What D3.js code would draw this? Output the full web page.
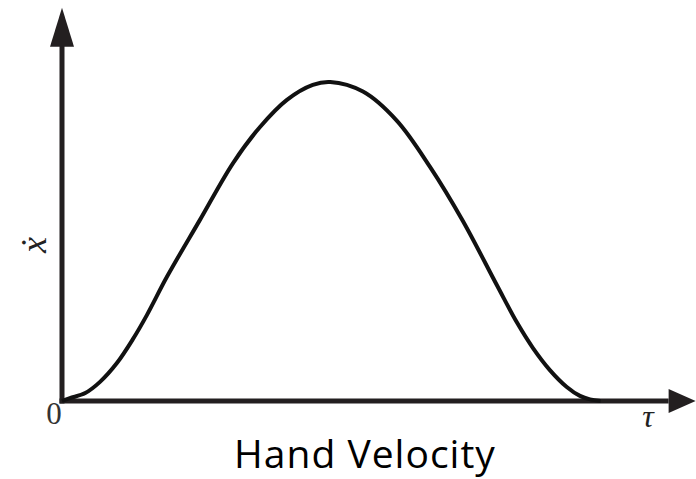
<!DOCTYPE html>
<html>
<head>
<meta charset="utf-8">
<script src="https://cdn.jsdelivr.net/npm/d3@7"></script>
<style>
  body { margin: 0; background: #fff; }
  svg { display: block; }
</style>
</head>
<body>
<div id="chart"></div>
<script>
//Data (tau normalised to movement time, velocity to peak)
var tau      = [0, 0.015, 0.044, 0.072, 0.104, 0.134, 0.161, 0.199, 0.261, 0.324, 0.375, 0.426, 0.475, 0.508, 0.570, 0.634, 0.697, 0.759, 0.824, 0.862, 0.892, 0.924, 0.956, 0.981, 1.0, 1.02];
var velocity = [0, 0.009, 0.025, 0.060, 0.119, 0.193, 0.270, 0.390, 0.567, 0.746, 0.859, 0.944, 0.991, 1.0, 0.970, 0.879, 0.734, 0.565, 0.362, 0.245, 0.166, 0.097, 0.044, 0.016, 0.005, 0];
var axisEnds = [1.2, 1.233]; //where the arrow tips sit, in data units
var labels   = {origin: "0", x: "\u03C4", y: "\u1E8B", title: "Hand Velocity"};

//Global variables
var width = 696;
var height = 479;
var axisColor = "#231f20";

var svg = d3.select("#chart")
  .append("svg")
  .attr("width", width)
  .attr("height", height);

//Scales
var xScale = d3.scaleLinear()
  .domain([0, 1])
  .range([62, 590]);

var yScale = d3.scaleLinear()
  .domain([0, 1])
  .range([401, 82]);

var x0 = xScale(0), y0 = yScale(0);
var xTip = xScale(axisEnds[0]), yTip = yScale(axisEnds[1]);
var headLen = 27, headHalf = 12;

//Axis lines
svg.append("line")
  .attr("x1", x0).attr("y1", y0 + 2.5)
  .attr("x2", x0).attr("y2", yTip + headLen)
  .attr("stroke", axisColor)
  .attr("stroke-width", 5);

svg.append("line")
  .attr("x1", x0 - 2.5).attr("y1", y0)
  .attr("x2", xTip - headLen).attr("y2", y0)
  .attr("stroke", axisColor)
  .attr("stroke-width", 5);

//Arrow heads
svg.append("path")
  .attr("d", "M" + x0 + "," + yTip + "L" + (x0 + headHalf) + "," + (yTip + headLen + 12) +
             "L" + (x0 - headHalf) + "," + (yTip + headLen + 12) + "Z")
  .attr("fill", axisColor);

svg.append("path")
  .attr("d", "M" + xTip + "," + y0 + "L" + (xTip - headLen) + "," + (y0 - headHalf) +
             "L" + (xTip - headLen) + "," + (y0 + headHalf) + "Z")
  .attr("fill", axisColor);

//Velocity curve
var line = d3.line()
  .x(function(d, i) { return xScale(tau[i]); })
  .y(function(d) { return yScale(d); })
  .curve(d3.curveCatmullRom.alpha(0.5));

svg.append("path")
  .datum(velocity)
  .attr("d", line)
  .attr("fill", "none")
  .attr("stroke", "#111")
  .attr("stroke-width", 4);

//Labels
svg.append("text")
  .attr("x", x0 - 8)
  .attr("y", y0 + 23)
  .attr("text-anchor", "middle")
  .attr("font-family", "Liberation Serif, serif")
  .attr("font-size", 31)
  .attr("fill", "#333")
  .text(labels.origin);

svg.append("text")
  .attr("x", 648)
  .attr("y", 427)
  .attr("text-anchor", "middle")
  .attr("font-family", "Liberation Serif, DejaVu Serif, serif")
  .attr("font-style", "italic")
  .attr("font-size", 32)
  .attr("fill", "#222")
  .text(labels.x);

svg.append("text")
  .attr("transform", "translate(46,245) rotate(-90)")
  .attr("text-anchor", "middle")
  .attr("font-family", "Liberation Serif, DejaVu Serif, serif")
  .attr("font-style", "italic")
  .attr("font-size", 36)
  .attr("fill", "#222")
  .text(labels.y);

svg.append("text")
  .attr("x", 365)
  .attr("y", 468)
  .attr("text-anchor", "middle")
  .attr("font-family", "Open Sans, sans-serif")
  .attr("font-size", 39)
  .attr("letter-spacing", 1)
  .attr("fill", "#000")
  .text(labels.title);
</script>
</body>
</html>
